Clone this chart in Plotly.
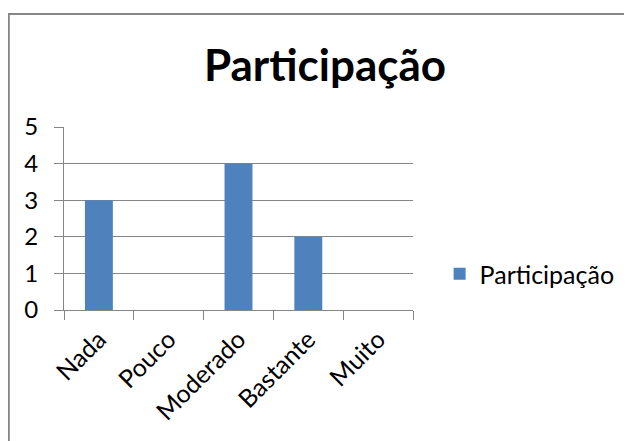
import plotly.graph_objects as go

categorias = ['Nada', 'Pouco', 'Moderado', 'Bastante', 'Muito']
participacao = [3, 0, 4, 2, 0]
serie_nome = 'Participação'

GRAY = '#868686'
FONT = 'Lato'

# the page body has an 8px margin, so the figure is drawn 8px smaller
# and every pixel position below is given relative to the reference minus 8
OFF = 8
W, H = 632 - OFF, 441 - OFF

fig = go.Figure()
fig.add_bar(x=categorias, y=participacao, name=serie_nome,
            marker=dict(color='#4F81BD', line=dict(width=0)),
            showlegend=True)

# plot area is 64..418 px wide, 127..310 px tall (reference coordinates)
pw, ph = 354, 183
x0, y0 = 64 - OFF, 310 - OFF


def px_x(v):
    return (v - OFF - x0) / pw


def px_y(v):
    return (y0 - (v - OFF)) / ph


fig.update_layout(
    width=W, height=H,
    margin=dict(l=x0, r=W - (x0 + pw), t=y0 - ph, b=H - y0),
    paper_bgcolor='white', plot_bgcolor='white',
    font=dict(family=FONT, size=25, color='black'),
    bargap=0.6,
    title=dict(text='<b>Participação</b>', x=(325 - OFF) / W, xanchor='center',
               y=1 - (66 - OFF) / H, yanchor='middle', xref='container', yref='container',
               font=dict(family=FONT, size=44, color='black')),
    legend=dict(x=px_x(445), y=px_y(274), xanchor='left', yanchor='middle',
                font=dict(family=FONT, size=25, color='black'),
                bgcolor='rgba(0,0,0,0)'),
    shapes=[dict(type='rect', xref='paper', yref='paper',
                 x0=px_x(8), x1=px_x(660), y0=px_y(14), y1=px_y(470),
                 line=dict(color=GRAY, width=2), layer='below')],
)

fig.update_xaxes(type='category', range=[-0.5, 4.5], showline=True, linecolor=GRAY,
                 linewidth=1, ticks='outside', ticklen=9, tickcolor=GRAY,
                 tickson='boundaries', tickangle=-45, showgrid=False,
                 ticklabelstandoff=4,
                 tickfont=dict(family=FONT, size=25, color='black'))
fig.update_yaxes(range=[0, 5], dtick=1, showline=True, linecolor=GRAY, linewidth=1,
                 ticks='outside', ticklen=9, tickcolor=GRAY, showgrid=True,
                 gridcolor=GRAY, gridwidth=1, zeroline=False,
                 ticklabelstandoff=11,
                 tickfont=dict(family=FONT, size=24, color='black'))

fig.write_html("out.html")
